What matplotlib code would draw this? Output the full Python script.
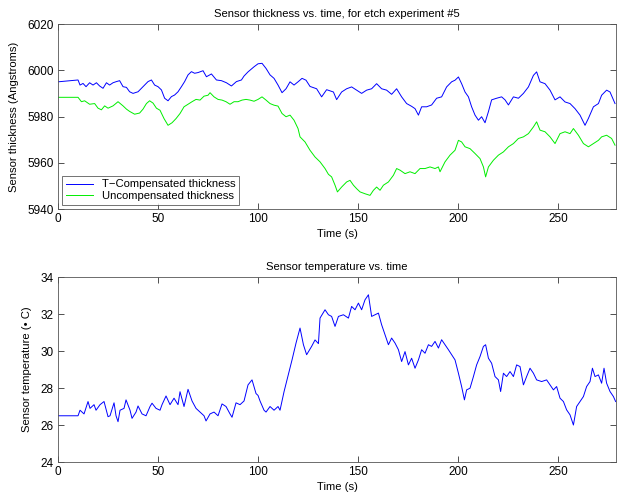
import numpy as np
from matplotlib import pyplot as plt

plt.rcParams['font.family'] = ['Liberation Sans', 'DejaVu Sans']

## Data
# T-compensated thickness (blue)
comp_t = [0, 10, 11, 12.5, 14, 15.8, 17.5, 19.2, 20.8, 22.5, 24.2, 25.8, 27.5, 29.2, 30.8,
          32.5, 34.2, 35.8, 37.5, 40, 42.5, 45, 46.7, 48.3, 50, 51.7, 53.3, 55, 56.7, 58.3,
          60, 61.7, 63.3, 65, 66.7, 68.3, 70, 72.5, 74.2, 76.7, 79.2, 81.7, 84.2, 86.7, 89.2,
          91.7, 93, 95, 98, 100, 102, 104, 106, 108, 110, 112, 114, 116, 118, 120, 122, 124,
          126, 129.3, 131.8, 134.3, 137.7, 139.3, 141.8, 144.3, 146.8, 149.3, 151.8, 154.3,
          156.8, 159.3, 161.8, 164.3, 166.8, 169.3, 171.8, 174.3, 176.8, 178.5, 180.2, 181.8,
          184.3, 186.8, 189.3, 191.8, 194.3, 196.8, 198.5, 200.2, 201.8, 203.5, 205.2, 206.8,
          208.5, 210.2, 211.8, 213.5, 215.2, 216.8, 219.3, 221.8, 223.5, 225.2, 227.7, 230.2,
          232.7, 235.2, 237.7, 239.3, 241, 243.5, 246, 248.5, 251, 253.5, 256, 258.5, 261,
          263.5, 265.2, 267.7, 270.2, 271.8, 274.3, 276, 278.5]
comp = [5995, 5995.8, 5993.6, 5994.3, 5992.9, 5994.6, 5993.6, 5994.6, 5993.2, 5992.2, 5994.6,
        5993.6, 5994.6, 5995.1, 5995.5, 5992.9, 5992.6, 5990.7, 5990.0, 5990.7, 5992.9, 5995.1,
        5995.8, 5993.6, 5992.9, 5991.5, 5987.9, 5986.8, 5988.6, 5989.3, 5990.7, 5992.9, 5995.1,
        5998.0, 5999.4, 5998.7, 5999.0, 5999.8, 5997.2, 5998.4, 5995.8, 5995.5, 5994.6, 5993.2,
        5995.1, 5995.8, 5997.5, 5999.3, 6001.5, 6002.8, 6003, 6000.8, 5998, 5996.5, 5993.6,
        5990.3, 5992, 5995, 5993.6, 5995, 5996.5, 5995.7, 5993, 5992, 5988.5, 5991.6, 5990.6,
        5987.3, 5990.6, 5992, 5992.8, 5991.4, 5990, 5991.4, 5992, 5994.2, 5992, 5991.4, 5989.6,
        5992, 5988.5, 5985.6, 5984.4, 5983.4, 5980.6, 5984.2, 5984.2, 5985, 5987.9, 5988.5,
        5992.8, 5995, 5995.7, 5997.1, 5994.2, 5990.6, 5988.5, 5984.2, 5980.6, 5978.4, 5979.9,
        5977.3, 5982.1, 5987.2, 5987.9, 5988.5, 5987.2, 5985, 5988.5, 5987.9, 5990, 5992.8,
        5997.8, 5999.3, 5995, 5994.2, 5991.4, 5987.2, 5988.5, 5986.3, 5985.6, 5983.4, 5980.6,
        5976.2, 5979.2, 5984.2, 5985.6, 5989.2, 5991.4, 5990.6, 5985.6]

# Uncompensated thickness (green)
raw_t = [0, 10, 11.7, 13.3, 15.8, 18.3, 20, 21.7, 23.3, 25, 27.5, 30, 32.5, 34.2, 35.8, 38.3,
         40.8, 42.5, 44.2, 45.8, 47.5, 49.2, 51, 53, 55, 57, 59, 61, 63, 65, 67, 69, 71, 73,
         75, 76, 78, 80, 82, 84, 86, 88, 90, 92, 94, 96, 98, 100, 102, 104, 106, 108, 110,
         112, 114, 116, 118, 120, 121, 123.5, 126, 128.5, 131, 133.5, 135.2, 136.8, 138.5,
         139.7, 141.8, 144.3, 146, 147.7, 149.3, 151, 153.5, 156, 157.7, 159.3, 161, 162.7,
         165.2, 167.7, 169.3, 171, 173.5, 176, 178.5, 181, 183.5, 186, 188.5, 190.2, 191,
         193.5, 196, 198.5, 200.2, 201.8, 203.5, 206, 208.5, 211, 212.7, 213.8, 215.2, 217.7,
         220.2, 222.7, 225.2, 227.7, 230.2, 232.7, 235.2, 237.7, 239.3, 241, 243.5, 246,
         248.5, 251, 253.5, 256, 257.7, 260.2, 262.7, 265.2, 267.7, 270.2, 271.8, 274.3,
         276.8, 278.5]
raw = [5988.3, 5988.3, 5986.4, 5986.8, 5985.3, 5985.6, 5983.6, 5982.9, 5984.6, 5983.6, 5984.6,
       5986.4, 5984.6, 5983.2, 5982.2, 5981.0, 5981.5, 5983.2, 5985.6, 5986.8, 5985.8, 5983.6,
       5982.7, 5979.1, 5976.2, 5977.3, 5979.1, 5981.3, 5984.2, 5985.3, 5986.4, 5987.4, 5987.1,
       5988.8, 5989.2, 5990.3, 5988.5, 5987.4, 5987.1, 5986.4, 5985.3, 5986.4, 5986.4, 5987.1,
       5987.4, 5987.1, 5986.6, 5987.4, 5988.5, 5987.1, 5985.6, 5984.9, 5984.5, 5981.3, 5979.9,
       5980.6, 5978.4, 5974.8, 5971.2, 5969, 5965.4, 5962.5, 5960.4, 5957.5, 5955, 5953.9,
       5950.3, 5947.4, 5949.5, 5951.7, 5952.4, 5950.3, 5948.8, 5947.4, 5946.6, 5945.9, 5948.1,
       5949.5, 5948.1, 5950.3, 5951.7, 5954.6, 5957.5, 5956.8, 5955.3, 5956.1, 5955.3, 5957.5,
       5957.5, 5958.2, 5957.5, 5958.2, 5956.1, 5960.4, 5963.3, 5965.4, 5969.7, 5969, 5966.9,
       5966.1, 5964, 5961.8, 5958.2, 5953.9, 5958.2, 5961.1, 5963.3, 5964.7, 5966.9, 5968.3,
       5970.5, 5971.2, 5972.6, 5975.5, 5977.7, 5974.1, 5973.4, 5971.2, 5968.3, 5972.6, 5973.4,
       5972.6, 5974.8, 5971.9, 5968.3, 5966.9, 5968.3, 5969.7, 5971.2, 5971.9, 5970.5, 5967.6]

# Sensor temperature
temp_t = [0, 10, 11, 13, 15, 16, 18, 19, 21, 23, 25, 26, 28, 29, 30, 31, 33, 34, 36, 37, 39,
          40, 42, 44, 46, 47, 49, 51, 52, 54, 56, 58, 60, 61, 63, 65, 67, 69, 71, 73, 74, 76,
          78, 80, 82, 84, 86, 87, 89, 91, 93, 95, 97, 99, 100, 101, 103, 104, 106, 108, 110,
          111, 112, 113, 115, 117, 119, 121, 122.7, 124.3, 126.8, 128.5, 130.2, 131, 133.5,
          135.2, 136.8, 138.5, 140.2, 142.7, 145.2, 146.8, 148.5, 150.2, 151.8, 153.5, 155.2,
          156.8, 158.5, 160.2, 161.8, 163.5, 165.2, 166.8, 168.5, 170.2, 171.8, 173.5, 175.2,
          176.8, 178.5, 180.2, 181.8, 183.5, 185.2, 186.8, 188.5, 190.2, 191.8, 193.5, 195.2,
          196.8, 198.5, 200.2, 201.8, 203.2, 204.3, 206, 207.7, 209.3, 211, 212.7, 213.8, 215.2,
          216.8, 218.5, 220.2, 221.3, 222.7, 224.3, 226, 227.7, 229.3, 231, 232.7, 234.3, 236,
          237.7, 239.3, 241.8, 244.3, 246, 247.7, 249.3, 251, 252.7, 254.3, 256, 257.7, 259.3,
          261, 262.7, 264.3, 266, 267.2, 268.5, 270.2, 271.8, 273, 274.3, 276, 277.7, 278.8]
temp = [26.5, 26.5, 26.8, 26.6, 27.27, 26.9, 27.1, 26.8, 27.1, 27.27, 26.45, 26.5, 27.2, 26.5,
        26.18, 26.8, 26.9, 27.36, 26.8, 26.36, 26.7, 27.03, 26.6, 26.5, 27.0, 27.18, 26.9, 26.8,
        27.1, 27.57, 27.1, 27.45, 27.1, 27.8, 27.0, 27.93, 27.3, 26.9, 26.7, 26.5, 26.22, 26.6,
        26.7, 26.5, 27.14, 27.0, 26.6, 26.42, 27.2, 27.1, 27.3, 28.17, 28.44, 27.7, 27.6, 27.3,
        26.8, 26.7, 27.0, 26.8, 27.0, 26.8, 27.3, 27.8, 28.66, 29.52, 30.43, 31.24, 30.34, 29.8,
        30.25, 30.6, 30.4, 31.78, 32.23, 31.96, 31.87, 31.33, 31.87, 31.96, 31.78, 32.41, 32.23,
        32.59, 32.23, 32.77, 33.04, 31.87, 31.96, 32.05, 31.42, 30.88, 30.34, 30.7, 30.43, 30.07,
        29.43, 29.97, 29.25, 29.61, 29.07, 29.52, 30.07, 29.88, 30.34, 30.25, 30.52, 30.16,
        30.61, 30.34, 30.07, 29.8, 29.52, 28.8, 28.08, 27.36, 27.9, 27.99, 28.62, 29.25, 29.7,
        30.25, 30.34, 29.61, 29.34, 28.62, 28.44, 27.81, 28.8, 28.62, 28.89, 28.62, 29.25, 29.16,
        28.17, 28.62, 29.07, 28.8, 28.44, 28.35, 28.44, 28.17, 27.9, 28.08, 27.45, 27.27, 26.82,
        26.55, 26.0, 27.0, 27.27, 27.54, 28.08, 28.35, 29.07, 28.62, 28.71, 28.26, 29.07, 28.26,
        27.81, 27.54, 27.27]

x_ticks = [0, 50, 100, 150, 200, 250]


def matlab_axes(ax):
    ax.tick_params(direction='in', top=True, right=True, labelsize=8.5, length=4, width=0.6,
                   colors='#333333', labelcolor='black', pad=3)
    for s in ax.spines.values():
        s.set_linewidth(0.6)
        s.set_color('#555555')
    ax.set_xlim(0, 279)
    ax.set_xticks(x_ticks)


fig = plt.figure(figsize=(6.18, 4.96), dpi=100)

# Thickness
ax1 = fig.add_axes([0.0939, 0.5786, 0.9029, 0.373])
ax1.plot(comp_t, comp, color='#0000ff', lw=0.7, label='T\u2212Compensated thickness')
ax1.plot(raw_t, raw, color='#00ee00', lw=0.7, label='Uncompensated thickness')
matlab_axes(ax1)
ax1.set_ylim(5940, 6020)
ax1.set_yticks([5940, 5960, 5980, 6000, 6020])
ax1.set_title('Sensor thickness vs. time, for etch experiment #5', fontsize=8.1, pad=5)
ax1.set_xlabel('Time (s)', fontsize=8.1, labelpad=3)
ax1.set_ylabel('Sensor thickness (Angstroms)', fontsize=8.1)
ax1.yaxis.set_label_coords(-0.07, 0.5)
leg = ax1.legend(loc='lower left', fontsize=8.1, frameon=True, fancybox=False,
                 borderaxespad=0.35, handlelength=2.4, borderpad=0.35, labelspacing=0.15)
leg.get_frame().set_edgecolor('#333333')
leg.get_frame().set_linewidth(0.6)

# Temperature
ax2 = fig.add_axes([0.0939, 0.0685, 0.9029, 0.373])
ax2.plot(temp_t, temp, color='#0000ff', lw=0.7)
matlab_axes(ax2)
ax2.set_ylim(24, 34)
ax2.set_yticks([24, 26, 28, 30, 32, 34])
ax2.set_title('Sensor temperature vs. time', fontsize=8.1, pad=5)
ax2.set_xlabel('Time (s)', fontsize=8.1, labelpad=3)
ax2.set_ylabel('Sensor temperature (\u2022 C)', fontsize=8.1)
ax2.yaxis.set_label_coords(-0.047, 0.5)

plt.savefig('out.png', dpi=100)
